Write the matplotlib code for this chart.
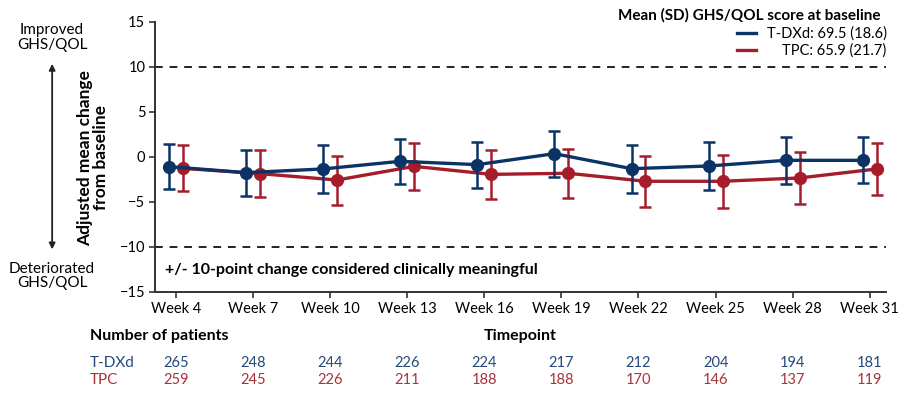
import numpy as np
import matplotlib
matplotlib.use("Agg")
import matplotlib.pyplot as plt
from matplotlib.lines import Line2D

plt.rcParams['font.family'] = ['Lato', 'DejaVu Sans']

# ---------------------------------------------------
# DATOS
# ---------------------------------------------------

semanas = ['Week 4', 'Week 7', 'Week 10', 'Week 13', 'Week 16',
           'Week 19', 'Week 22', 'Week 25', 'Week 28', 'Week 31']

tdxd_media = [-1.07, -1.74, -1.33, -0.48, -0.85, 0.37, -1.30, -1.00, -0.37, -0.37]
tdxd_sup = [1.44, 0.74, 1.33, 2.04, 1.67, 2.93, 1.33, 1.67, 2.26, 2.19]
tdxd_inf = [-3.56, -4.33, -3.96, -3.04, -3.44, -2.26, -3.96, -3.70, -2.96, -2.89]

tpc_media = [-1.26, -1.85, -2.56, -1.04, -1.93, -1.81, -2.70, -2.70, -2.33, -1.33]
tpc_sup = [1.37, 0.74, 0.15, 1.59, 0.74, 0.93, 0.11, 0.26, 0.52, 1.52]
tpc_inf = [-3.74, -4.44, -5.33, -3.67, -4.63, -4.56, -5.56, -5.67, -5.19, -4.19]

n_tdxd = [265, 248, 244, 226, 224, 217, 212, 204, 194, 181]
n_tpc = [259, 245, 226, 211, 188, 188, 170, 146, 137, 119]

leyenda_titulo = 'Mean (SD) GHS/QOL score at baseline'
leyenda_tdxd = 'T-DXd: 69.5 (18.6)'
leyenda_tpc = 'TPC: 65.9 (21.7)'

azul = '#0b3366'
rojo = '#a51d2a'
azul_tabla = '#24497a'
rojo_tabla = '#a8333a'

# ---------------------------------------------------
# GRAFICO
# ---------------------------------------------------

fig = plt.figure(figsize=(9.15, 3.94), dpi=100)
ax = fig.add_axes([0.1694, 0.2589, 0.7989, 0.6853])

x = np.arange(len(semanas))
desp = 0.09


def serie(medias, sup, inf, dx, color, z):
    medias = np.array(medias)
    err = [medias - np.array(inf), np.array(sup) - medias]
    ax.errorbar(x + dx, medias, yerr=err, color=color, lw=2.4, marker='o',
                ms=8.5, capsize=4.5, capthick=1.8, elinewidth=1.8, zorder=z)


serie(tdxd_media, tdxd_sup, tdxd_inf, -desp, azul, 4)
serie(tpc_media, tpc_sup, tpc_inf, desp, rojo, 3)

ax.axhline(10, color='#222222', ls=(0, (4, 3.5)), lw=1.4)
ax.axhline(-10, color='#222222', ls=(0, (4, 3.5)), lw=1.4)

ax.set_ylim(-15, 15)
ax.set_xlim(-0.27, 9.21)
ax.set_yticks([-15, -10, -5, 0, 5, 10, 15])
ax.set_yticklabels(['\u221215', '\u221210', '\u22125', '0', '5', '10', '15'])
ax.set_xticks(x)
ax.set_xticklabels(semanas)
ax.tick_params(labelsize=10.5, length=4, width=1.2, color='#333333', pad=3)
for lado in ['top', 'right']:
    ax.spines[lado].set_visible(False)
for lado in ['left', 'bottom']:
    ax.spines[lado].set_linewidth(1.4)
    ax.spines[lado].set_color('#333333')

ax.text(0.013, 0.08, '+/- 10-point change considered clinically meaningful',
        transform=ax.transAxes, fontsize=11.5, fontweight='bold', va='center')

# eje y
fig.text(0.102, 0.60, 'Adjusted mean change\nfrom baseline', rotation=90,
         ha='center', va='center', fontsize=12.5, fontweight='bold', linespacing=1.0)
fig.text(0.057, 0.905, 'Improved\nGHS/QOL', ha='center', va='center',
         fontsize=11, linespacing=1.05)
fig.text(0.057, 0.30, 'Deteriorated\nGHS/QOL', ha='center', va='center',
         fontsize=11, linespacing=1.05)
ax.annotate('', xy=(0.057, 0.845), xytext=(0.057, 0.36), xycoords='figure fraction',
            arrowprops=dict(arrowstyle='<|-|>', color='#222222', lw=1.3,
                            mutation_scale=9))

# leyenda
fig.text(0.962, 0.962, leyenda_titulo, ha='right', va='center',
         fontsize=11, fontweight='bold')
fig.text(0.969, 0.916, leyenda_tdxd, ha='right', va='center', fontsize=10.5)
fig.text(0.969, 0.872, leyenda_tpc, ha='right', va='center', fontsize=10.5)
fig.add_artist(Line2D([0.805, 0.826], [0.916, 0.916], color=azul, lw=2.4))
fig.add_artist(Line2D([0.805, 0.826], [0.872, 0.872], color=rojo, lw=2.4))

# tabla de pacientes
fig.text(0.098, 0.147, 'Number of patients', fontsize=11.5, fontweight='bold', va='center')
fig.text(0.568, 0.147, 'Timepoint', fontsize=11.5, fontweight='bold', va='center', ha='center')
fig.text(0.098, 0.079, 'T-DXd', fontsize=11, color=azul_tabla, va='center')
fig.text(0.098, 0.035, 'TPC', fontsize=11, color=rojo_tabla, va='center')
for i in range(len(semanas)):
    xf = fig.transFigure.inverted().transform(ax.transData.transform((x[i], 0)))[0]
    fig.text(xf, 0.079, str(n_tdxd[i]), ha='center', va='center', fontsize=10.5, color=azul_tabla)
    fig.text(xf, 0.035, str(n_tpc[i]), ha='center', va='center', fontsize=10.5, color=rojo_tabla)

plt.savefig('out.png', dpi=100, facecolor='white')
plt.close()
